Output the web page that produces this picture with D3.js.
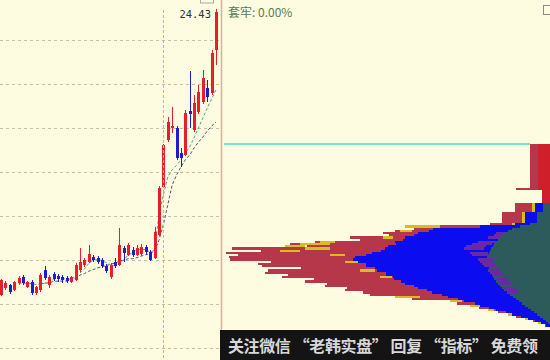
<!DOCTYPE html>
<html><head><meta charset="utf-8">
<script src="https://cdn.jsdelivr.net/npm/d3@7"></script>
<style>html,body{margin:0;padding:0;background:#fdfbe0;}svg{display:block}</style>
</head><body><svg id="c" width="550" height="360"></svg>
<script>
// ---------- candle data (price) ----------
const opens  = [11.41,11.73,11.86,11.64,11.95,12.23,11.77,12.00,11.50,11.64,12.55,11.86,12.36,12.27,12.23,12.18,12.00,12.09,12.55,12.77,12.91,13.14,13.09,13.00,12.73,12.23,12.91,12.77,13.55,13.23,13.45,13.23,13.27,13.59,13.36,13.09,14.14,16.32,18.45,19.00,19.00,17.86,17.77,19.77,18.91,19.73,20.18,20.82,20.59,22.55];
const highs  = [12.14,12.05,11.91,12.05,12.27,12.32,12.05,12.09,11.82,12.41,12.73,12.32,12.45,12.36,12.32,12.27,12.27,12.86,13.55,13.09,13.68,13.23,13.18,13.09,12.82,12.86,13.09,14.45,13.64,13.77,13.59,13.68,13.73,13.68,13.45,14.50,16.36,18.27,19.50,19.95,19.09,18.09,19.82,21.59,20.50,20.95,21.64,21.18,22.55,24.43];
const lows   = [11.36,11.64,11.45,11.59,11.86,11.86,11.73,11.41,11.41,11.55,12.09,11.73,12.05,12.00,11.95,11.95,11.95,12.05,12.45,12.68,12.86,12.91,12.82,12.64,12.41,12.14,12.64,12.73,12.91,13.18,13.14,13.18,13.18,13.23,12.95,13.05,14.09,16.27,18.36,18.77,17.55,17.23,17.73,19.00,18.82,19.64,20.09,20.18,20.50,21.86];
const closes = [12.09,11.95,11.55,12.00,12.18,11.95,12.00,11.50,11.77,12.32,12.18,12.23,12.14,12.14,12.09,12.05,12.23,12.77,12.91,13.00,13.27,13.00,12.91,12.73,12.50,12.77,12.73,13.68,13.32,13.68,13.23,13.55,13.59,13.36,13.00,14.27,16.27,18.23,19.27,19.09,17.64,17.64,19.68,19.64,20.14,20.64,21.27,20.41,22.41,24.27];
const ma5  = [null,null,null,null,11.95,11.93,11.94,11.93,11.88,11.91,11.95,12.00,12.13,12.20,12.16,12.13,12.13,12.26,12.41,12.59,12.84,12.99,13.02,12.98,12.88,12.78,12.73,12.88,13.00,13.24,13.33,13.49,13.47,13.48,13.35,13.45,15.05,15.95,16.77,17.10,17.30,17.55,17.86,18.14,18.55,19.00,19.45,19.90,20.32,20.73];
const ma10 = [null,null,null,null,null,null,null,null,null,11.93,11.94,11.97,12.03,12.04,12.04,12.04,12.07,12.20,12.31,12.38,12.49,12.56,12.64,12.70,12.74,12.81,12.86,12.95,12.99,13.06,13.06,13.11,13.18,13.24,13.30,13.40,13.90,14.60,15.50,16.40,16.86,17.23,17.55,17.77,18.09,18.36,18.59,18.86,19.09,19.27];
const gridLevels = [23,21,19,17,15,13,11,9];
const markerIndex = 37;
const cursorPrice = 18.27;
const trappedLabel = "套牢: 0.00%";

// ---------- chip distribution (volume units per price row, 0.1 step from 18.22 down) ----------
const chipRed = [6.1,6.1,6.1,6.1,6.1,6.1,6.1,6.1,6.1,6.1,6.1,6.1,6.1,6.1,6.1,6.1,6.1,6.1,6.1,6.1,
  10.4, 2.5,2.5,2.5,2.5,2.5,2.5, 10.7,10.7,10.7,10.7, 14.6,14.6,14.6,14.6,14.6, 18.3,
  44.2,41.5,47.3,50.9,49.0,61.0,58.0,71.6,79.3,74.0,97.0,88.0,98.8,95.0,98.0,97.6,85.0,89.0,87.8,76.0,
  86.0,86.9,80.0,81.7,72.0,74.7,68.0,68.6,62.0,62.5,57.0,54.9,47.3,42.0,30.5,28.5,23.8,21.5,18.3,16.0,
  12.2,10.5,7.3,5.2,3.0,1.5];
const chipBright = [3.7,3.7,3.7,3.7,3.7,3.7,3.7,3.7,3.7,3.7,3.7,3.7,3.7,3.7,3.7,3.7,3.7,3.7,3.7,3.7,
  3.7, 2.5,2.5,2.5,2.5,2.5,2.5, 0,0,0,0, 0,0,0,0,0, 0,
  0,0,0,0,0,0,0,0,0,0,0,0,0,0,0,0,0,0,0,0,
  0,0,0,0,0,0,0,0,0,0,0,0,0,0,0,0,0,0,0,0,
  0,0,0,0,0,0];
const chipBlue = [0,0,0,0,0,0,0,0,0,0,0,0,0,0,0,0,0,0,0,0,
  0, 0,0,0,0,0,0, 4.6,4.6,4.6,4.6, 7.6,7.6,7.6,7.6,7.6, 10.7,
  21.3,35.7,37.0,40.2,41.5,44.2,44.8,47.3,47.0,49.4,50.3,51.5,54.3,56.0,59.5,60.1,58.5,56.0,56.1,53.5,
  52.7,50.0,50.0,48.0,47.6,45.5,44.2,41.5,40.2,37.5,36.0,33.0,31.1,28.0,26.2,23.0,21.3,18.5,16.5,13.5,
  11.6,8.8,6.7,4.6,2.7,1.2];
const chipTeal = [0,0,0,0,0,0,0,0,0,0,0,0,0,0,0,0,0,0,0,0,
  0, 0,0,0,0,0,0, 2.1,2.1,2.1,2.1, 4.0,4.0,4.0,4.0,4.0, 6.1,
  9.1,11.6,12.8,13.7,14.6,15.2,15.9,16.5,17.1,17.4,18.0,18.3,18.6,18.9,19.2,19.2,19.2,18.9,18.9,18.6,
  18.3,18.0,17.7,17.4,17.1,16.5,15.9,15.2,14.6,14.0,13.1,12.2,11.3,10.4,9.5,8.5,7.6,6.7,5.8,4.9,
  4.0,3.0,2.1,1.2,0.6,0];
const purpleRows = [40,41,42,44,45,46,47,49,50,52,53,54,55,57,58,59,61,62,63,65,66,67];
const purpleFrom = [16.5,17.1,18.9,22.0,23.8,25.6,26.2,24.4,23.8,22.0,21.3,20.7,20.1,18.9,18.3,17.7,16.5,15.9,15.2,14.0,13.4,12.8];
const purpleTo   = [13.7,14.3,15.2,16.5,17.7,19.5,20.1,18.9,18.3,17.1,17.1,16.5,16.2,15.2,14.6,14.0,12.8,12.2,11.6,10.4,9.8,9.5];
const yellowRows = [27,28,29,30,31,32,33,34,35,36,37,39,42,44,45,46,47,48,50,53,57,60,69,71,73,75,77,79,81];
const yellowFrom = [5.49,5.49,5.49,5.49,8.54,8.54,8.54,8.54,8.54,11.59,44.21,45.73,50.91,70.12,76.22,80.79,74.70,82.32,67.07,62.50,57.93,51.83,47.26,30.49,24.39,18.90,12.80,7.62,3.66];
const yellowTo   = [4.57,4.57,4.57,4.57,7.62,7.62,7.62,7.62,7.62,10.67,33.54,42.07,47.87,65.55,67.07,74.70,67.07,76.22,62.50,57.93,53.35,48.17,39.63,26.83,21.34,17.07,11.59,6.10,1.52];
const chipTop = 18.22, chipStep = 0.1;
const chipLevels = chipRed.map((_, i) => +(chipTop - i * chipStep).toFixed(2));
const watermark = "关注微信 “老韩实盘” 回复 “指标” 免费领";

// ---------- drawing ----------
const W = 550, H = 360;
const svg = d3.select('#c');
svg.append('rect').attr('width', W).attr('height', H).attr('fill', '#fdfbe0');

const y = d3.scaleLinear().domain([9, 23]).range([348, 40]);
const x = d3.scaleLinear().domain([0, closes.length - 1]).range([1, 216]);
const chipX = d3.scaleLinear().domain([0, 100]).range([550, 222]);

// grid
svg.append('g').selectAll('line').data(gridLevels).join('line')
  .attr('x1', 0).attr('x2', 220)
  .attr('y1', d => Math.round(y(d)) + 0.5).attr('y2', d => Math.round(y(d)) + 0.5)
  .attr('stroke', '#c9bea2').attr('stroke-width', 1).attr('stroke-dasharray', '3,3');

// moving averages
const line = d3.line().defined(d => d != null).x((d, i) => x(i)).y(d => y(d));
svg.append('path').datum(ma10).attr('d', line).attr('fill', 'none')
  .attr('stroke', '#4e5670').attr('stroke-width', 1).attr('stroke-dasharray', '3,2');
svg.append('path').datum(ma5).attr('d', line).attr('fill', 'none')
  .attr('stroke', '#5e9e98').attr('stroke-width', 1).attr('stroke-dasharray', '3,2');

// candles
const idx = d3.range(closes.length);
const col = i => closes[i] >= opens[i] ? '#e4202a' : '#1c1cd0';
const cg = svg.append('g').attr('shape-rendering', 'crispEdges');
cg.selectAll('line').data(idx).join('line')
  .attr('x1', i => Math.round(x(i)) + 0.5).attr('x2', i => Math.round(x(i)) + 0.5)
  .attr('y1', i => y(highs[i])).attr('y2', i => y(lows[i]))
  .attr('stroke', col).attr('stroke-width', 1);
cg.selectAll('rect').data(idx).join('rect')
  .attr('x', i => Math.round(x(i)) - 1).attr('width', 3)
  .attr('y', i => y(Math.max(opens[i], closes[i])))
  .attr('height', i => Math.max(1.5, Math.abs(y(opens[i]) - y(closes[i]))))
  .attr('fill', col);

// marker vertical dashed line
svg.append('line').attr('x1', Math.round(x(markerIndex)) + 0.5).attr('x2', Math.round(x(markerIndex)) + 0.5)
  .attr('y1', 10).attr('y2', H).attr('stroke', '#d6c21c').attr('stroke-width', 1).attr('stroke-dasharray', '3,2');

// max price label
const maxHigh = d3.max(highs);
svg.append('text').attr('x', x(highs.indexOf(maxHigh)) - 5).attr('y', y(maxHigh) + 9)
  .attr('text-anchor', 'end').attr('font-family', 'DejaVu Sans Mono, monospace').attr('font-size', 10.5)
  .attr('fill', '#333').text(d3.format('.2f')(maxHigh));

// small box top of left panel
svg.append('rect').attr('x', 200.5).attr('y', -1).attr('width', 13).attr('height', 4)
  .attr('fill', 'none').attr('stroke', '#b0a898');

// panel separator
svg.append('line').attr('x1', 221.5).attr('x2', 221.5).attr('y1', 0).attr('y2', H)
  .attr('stroke', '#d2b49c').attr('stroke-width', 1.5);

// ---------- chip distribution ----------
const rowTop = i => Math.round(y(chipLevels[i] + chipStep / 2));
const rowBot = i => Math.round(y(chipLevels[i] - chipStep / 2));
const chipG = svg.append('g').attr('shape-rendering', 'crispEdges');
function layer(values, color) {
  chipG.append('g').selectAll('rect').data(d3.range(values.length).filter(i => values[i] > 0))
    .join('rect')
    .attr('x', i => chipX(values[i])).attr('width', i => chipX(0) - chipX(values[i]))
    .attr('y', rowTop).attr('height', i => rowBot(i) - rowTop(i))
    .attr('fill', color);
}
function segs(rows, from, to, color) {
  chipG.append('g').selectAll('rect').data(d3.range(rows.length)).join('rect')
    .attr('x', k => chipX(from[k])).attr('width', k => chipX(to[k]) - chipX(from[k]))
    .attr('y', k => rowTop(rows[k])).attr('height', k => rowBot(rows[k]) - rowTop(rows[k]))
    .attr('fill', color);
}
layer(chipRed, '#b6374a');
layer(chipBright, '#cf1f2b');
segs(yellowRows, yellowFrom, yellowTo, '#dcbc1c');
layer(chipBlue, '#0c0cf0');
layer(chipTeal, '#2d5a5a');
segs(purpleRows, purpleFrom, purpleTo, '#6a28a4');

// cursor cyan line
svg.append('line').attr('x1', 224).attr('x2', chipX(chipRed[0]))
  .attr('y1', y(cursorPrice)).attr('y2', y(cursorPrice))
  .attr('stroke', '#48dcd2').attr('stroke-width', 1.5);

// label
svg.append('text').attr('x', 228).attr('y', 17).attr('font-family', 'Noto Sans CJK SC, sans-serif')
  .attr('font-size', 12).attr('fill', '#5a7a5a').text(trappedLabel);

// top-right small icon
svg.append('rect').attr('x', 543.5).attr('y', 5.5).attr('width', 7).attr('height', 9)
  .attr('fill', 'none').attr('stroke', '#8a8a8a');

// watermark band
svg.append('rect').attr('x', 220).attr('y', 330).attr('width', 330).attr('height', 30).attr('fill', '#141414');
svg.append('text').attr('x', 228).attr('y', 352).attr('font-family', 'Noto Sans CJK SC, sans-serif')
  .attr('font-size', 16).attr('font-weight', 'bold').attr('fill', '#d8d8d8')
  .attr('textLength', 310).attr('lengthAdjust', 'spacing').text(watermark);
</script></body></html>
